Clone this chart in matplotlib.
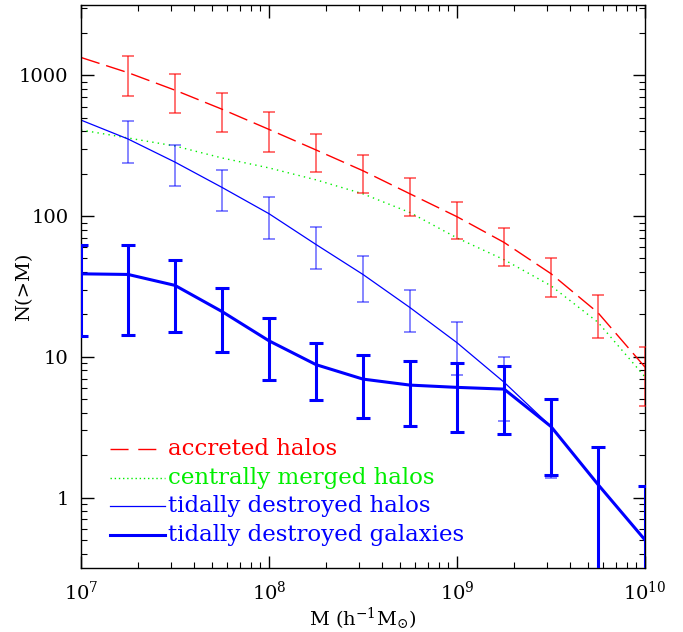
import numpy as np
import matplotlib
matplotlib.use("Agg")
import matplotlib.pyplot as plt
from matplotlib.ticker import LogLocator, NullFormatter, FixedLocator, FixedFormatter

# halo / galaxy mass grid (h^-1 Msun)
mass = [1e7, 1.78e7, 3.16e7, 5.62e7, 1e8, 1.78e8, 3.16e8, 5.62e8,
        1e9, 1.78e9, 3.16e9, 5.62e9, 1e10]

# accreted halos
n_acc = [1340, 1045, 785, 575, 413, 295, 210, 144, 99, 65, 39, 20.6, 8.45]
acc_hi = [np.nan, 1370, 1023, 752, 546, 385, 272, 188, 127, 82, 50, 27.4, 11.7]
acc_lo = [np.nan, 719, 540, 394, 287, 207, 145, 101, 68.9, 44.1, 26.7, 13.6, 4.5]

# centrally merged halos
n_cen = [409, 359, 315, 259, 220, 181, 144, 106, 70, 49, 32, 17.6, 7.2]

# tidally destroyed halos
n_tid = [481, 353, 242, 160, 104, 62.8, 38.5, 22.4, 12.6, 6.6, 3.2, 1.24, 0.5]
tid_hi = [np.nan, 471, 320, 213, 136, 83.8, 51.9, 29.8, 17.8, 10.0, 4.97, 2.3, 1.2]
tid_lo = [np.nan, 238, 164, 108, 69.2, 42.3, 24.5, 14.9, 7.41, 3.52, 1.38, 0.01, 0.01]

# tidally destroyed galaxies
n_gal = [38.9, 38.5, 32.2, 21, 13, 8.8, 6.95, 6.3, 6.07, 5.9, 3.2, 1.24, 0.5]
gal_hi = [62.8, 62.8, 49, 31, 19, 12.6, 10.3, 9.4, 9.1, 8.6, 5.0, 2.3, 1.2]
gal_lo = [14.1, 14.3, 15.1, 10.8, 6.8, 4.9, 3.7, 3.25, 2.94, 2.84, 1.44, 0.01, 0.01]

labels = ["accreted halos", "centrally merged halos",
          "tidally destroyed halos", "tidally destroyed galaxies"]

plt.rcParams['font.family'] = ['DejaVu Serif']
plt.rcParams['mathtext.fontset'] = 'dejavuserif'

RED = "#ff0000"
GREEN = "#00ee00"
BLUE = "#0000ff"


def bars(ax, x, y, lo, hi, color, lw, cap, alpha):
    x = np.array(x); y = np.array(y); lo = np.array(lo); hi = np.array(hi)
    ok = ~np.isnan(hi)
    ax.errorbar(x[ok], y[ok], yerr=[y[ok] - lo[ok], hi[ok] - y[ok]], fmt='none',
                ecolor=color, elinewidth=lw, capsize=cap, capthick=lw,
                alpha=alpha, zorder=3)


fig = plt.figure(figsize=(6.83, 6.32), dpi=100)
ax = fig.add_axes([0.1186, 0.1013, 0.8258, 0.8908])

ax.plot(mass, n_acc, color=RED, lw=1.0, dashes=(14, 5))
bars(ax, mass, n_acc, acc_lo, acc_hi, RED, 1.1, 4, 0.7)

ax.plot(mass, n_cen, color=GREEN, lw=1.0, dashes=(1, 3))

ax.plot(mass, n_tid, color=BLUE, lw=0.9)
bars(ax, mass, n_tid, tid_lo, tid_hi, BLUE, 1.1, 4, 0.6)

ax.plot(mass, n_gal, color=BLUE, lw=2.2)
bars(ax, mass, n_gal, gal_lo, gal_hi, BLUE, 2.2, 5, 1.0)

ax.set_xscale('log')
ax.set_yscale('log')
ax.set_xlim(1e7, 1e10)
ax.set_ylim(10 ** -0.5, 10 ** 3.5)

ax.xaxis.set_major_locator(LogLocator(base=10, numticks=10))
ax.xaxis.set_minor_locator(LogLocator(base=10, subs=np.arange(2, 10), numticks=20))
ax.xaxis.set_minor_formatter(NullFormatter())
ax.yaxis.set_major_locator(FixedLocator([1, 10, 100, 1000]))
ax.yaxis.set_major_formatter(FixedFormatter(["1", "10", "100", "1000"]))
ax.yaxis.set_minor_locator(LogLocator(base=10, subs=np.arange(2, 10), numticks=20))
ax.yaxis.set_minor_formatter(NullFormatter())

ax.tick_params(which='both', direction='in', top=True, right=True, labelsize=14)
ax.tick_params(which='major', length=9, width=1.0, pad=9)
ax.tick_params(which='minor', length=4.5, width=0.8)
for s in ax.spines.values():
    s.set_linewidth(1.0)

ax.set_xlabel(r'M (h$^{-1}$M$_{\odot}$)', fontsize=14)
ax.set_ylabel('N(>M)', fontsize=14)
ax.xaxis.set_label_coords(0.5, -0.067)
ax.yaxis.set_label_coords(-0.085, 0.5)

# legend drawn by hand, lower left
rows = [0.211, 0.160, 0.110, 0.0586]
styles = [dict(color=RED, lw=1.0, dashes=(13, 7)),
          dict(color=GREEN, lw=1.0, dashes=(1, 2)),
          dict(color=BLUE, lw=0.9),
          dict(color=BLUE, lw=2.2)]
for yy, lab, st in zip(rows, labels, styles):
    ax.plot([0.051, 0.149], [yy, yy], transform=ax.transAxes, **st)
    ax.text(0.154, yy, lab, transform=ax.transAxes, color=st['color'],
            fontsize=16.5, va='center', ha='left')

fig.savefig("out.png", dpi=100)
